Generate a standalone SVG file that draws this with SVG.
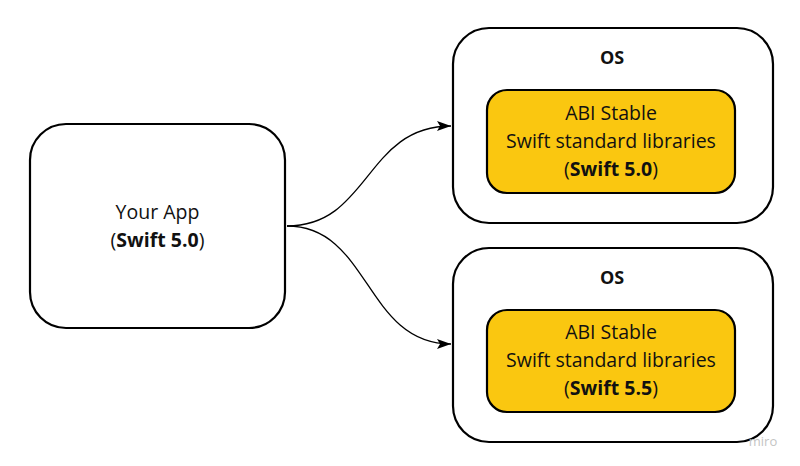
<svg xmlns="http://www.w3.org/2000/svg" width="800" height="466" viewBox="0 0 800 466">
<defs>
<style>
.box{fill:#fff;stroke:#000;stroke-width:2.2}
.lib{fill:#FAC710;stroke:#000;stroke-width:2.2}
text{font-family:"Open Sans","Liberation Sans",sans-serif;font-size:19.5px;fill:#111;text-anchor:middle}
.b{font-weight:bold}
.os{font-weight:bold;font-size:18px}
.wm{font-size:13px;fill:#c4c4c4}
.edge{fill:none;stroke:#000;stroke-width:1.3}
</style>
<marker id="arr" markerWidth="14" markerHeight="10" refX="14" refY="5" orient="auto" markerUnits="userSpaceOnUse">
<path d="M0,0 L14,5 L0,10 L3,5 Z" fill="#000"/>
</marker>
</defs>
<rect width="800" height="466" fill="#fff"/>
<g id="app">
<rect class="box" x="30" y="124" width="255" height="204" rx="36"/>
<text x="157.5" y="219">Your App</text>
<text x="157.5" y="247">(<tspan class="b">Swift 5.0</tspan>)</text>
</g>
<g id="os1">
<rect class="box" x="453" y="28" width="320" height="195" rx="36"/>
<text class="os" x="612" y="64">OS</text>
<g id="lib1">
<rect class="lib" x="487" y="90" width="248" height="103" rx="20"/>
<text x="611" y="120">ABI Stable</text>
<text x="611" y="148">Swift standard libraries</text>
<text x="611" y="176">(<tspan class="b">Swift 5.0</tspan>)</text>
</g>
</g>
<g id="os2">
<rect class="box" x="453" y="248" width="320" height="194" rx="36"/>
<text class="os" x="612" y="284">OS</text>
<g id="lib2">
<rect class="lib" x="487" y="310" width="248" height="102" rx="20"/>
<text x="611" y="339">ABI Stable</text>
<text x="611" y="367">Swift standard libraries</text>
<text x="611" y="395">(<tspan class="b">Swift 5.5</tspan>)</text>
</g>
</g>
<g id="connectors">
<path class="edge" d="M287,226 C370,226 365,126 451,126" marker-end="url(#arr)"/>
<path class="edge" d="M287,226 C370,226 365,344 451,344" marker-end="url(#arr)"/>
</g>
<text class="wm" x="763" y="446">miro</text>
</svg>
